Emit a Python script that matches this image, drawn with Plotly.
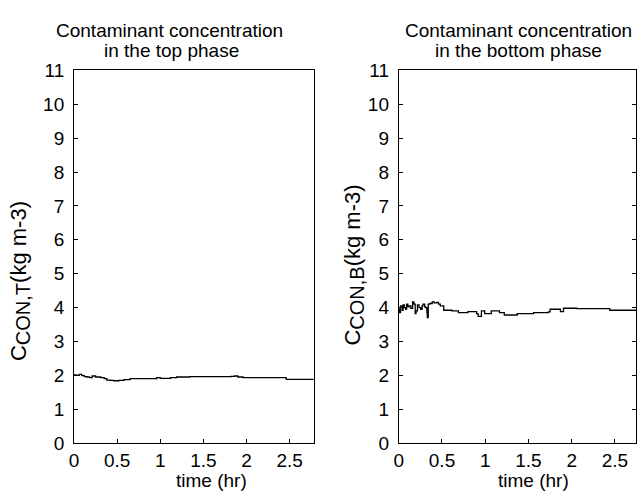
import plotly.graph_objects as go

# Top phase concentration (kg m-3) vs time (hr)
t_top = [0.0, 0.03, 0.06, 0.09, 0.12, 0.15, 0.18, 0.21, 0.25, 0.31, 0.35, 0.38, 0.42, 0.46,
         0.52, 0.58, 0.65, 0.75, 0.85, 0.92, 0.96, 1.0, 1.04, 1.12, 1.19, 1.34, 1.5, 1.65,
         1.77, 1.82, 1.86, 1.9, 1.96, 2.2, 2.44, 2.46, 2.6, 2.78]
c_top = [2.01, 2.0, 2.03, 1.99, 1.96, 1.95, 1.93, 1.98, 1.95, 1.93, 1.9, 1.86, 1.85, 1.84,
         1.85, 1.87, 1.9, 1.9, 1.9, 1.9, 1.93, 1.91, 1.91, 1.93, 1.95, 1.96, 1.96, 1.96,
         1.96, 1.97, 1.98, 1.95, 1.93, 1.93, 1.93, 1.88, 1.88, 1.88]

# Bottom phase concentration (kg m-3) vs time (hr)
t_bot = [0.0, 0.01, 0.02, 0.026, 0.04, 0.05, 0.064, 0.08, 0.09, 0.105, 0.12, 0.14, 0.16, 0.175,
         0.19, 0.2, 0.216, 0.235, 0.254, 0.27, 0.28, 0.3, 0.31, 0.325, 0.33, 0.341, 0.36, 0.387,
         0.41, 0.44, 0.46, 0.48, 0.52, 0.614, 0.69, 0.8, 0.9, 0.918, 0.956, 0.994, 1.07,
         1.165, 1.22, 1.37, 1.56, 1.73, 1.75, 1.87, 1.905, 2.06, 2.44, 2.78]
c_bot = [3.95, 3.85, 4.05, 4.05, 3.92, 4.08, 4.0, 3.95, 4.1, 4.02, 4.05, 3.98, 4.17, 4.1,
         3.82, 3.9, 4.08, 4.0, 3.95, 4.05, 4.1, 4.02, 4.0, 3.85, 3.7, 4.1, 4.12, 4.17,
         4.14, 4.15, 4.1, 4.05, 3.92, 3.9, 3.85, 3.88, 3.82, 3.74, 3.9, 3.82, 3.9,
         3.85, 3.78, 3.82, 3.85, 3.87, 3.95, 3.88, 3.98, 3.97, 3.92, 3.92]

x_ticks = [0, 0.5, 1, 1.5, 2, 2.5]
x_tick_text = ["0", "0.5", "1", "1.5", "2", "2.5"]
y_ticks = list(range(0, 12))

W, H = 637, 502
FONT = "Liberation Sans, Arial, sans-serif"
FS = 19

def px_x(x):
    return x / W

def px_y(y):
    return 1 - y / H

fig = go.Figure()
fig.add_trace(go.Scatter(x=t_top, y=c_top, mode="lines", line=dict(color="black", width=1.3, shape="hv"),
                         xaxis="x", yaxis="y", showlegend=False))
fig.add_trace(go.Scatter(x=t_bot, y=c_bot, mode="lines", line=dict(color="black", width=1.3, shape="hv"),
                         xaxis="x2", yaxis="y2", showlegend=False))

ydom = [px_y(452), px_y(63)]
common_ax = dict(showgrid=False, zeroline=False, showline=True, linecolor="black", linewidth=1,
                 ticks="inside", ticklen=4, tickcolor="black", tickwidth=1,
                 tickfont=dict(family=FONT, size=FS, color="black"))

fig.update_layout(
    width=W, height=H, margin=dict(l=0, r=0, t=0, b=0),
    paper_bgcolor="white", plot_bgcolor="white",
    xaxis=dict(domain=[px_x(69.7), px_x(311.7)], range=[0, 2.78], tickvals=x_ticks, ticktext=x_tick_text,
               mirror=True, anchor="y", ticklabelstandoff=0, **common_ax),
    yaxis=dict(domain=ydom, range=[0, 11], tickvals=y_ticks, mirror=True, anchor="x",
               ticklabelstandoff=5, **common_ax),
    xaxis2=dict(domain=[px_x(397.5), 1.0], range=[0, (637 - 397.5) / 87.3], tickvals=x_ticks,
                ticktext=x_tick_text, mirror=True, anchor="y2", ticklabelstandoff=0, **common_ax),
    yaxis2=dict(domain=ydom, range=[0, 11], tickvals=y_ticks, mirror="ticks", anchor="x2",
                ticklabelstandoff=5, **common_ax),
)

def ann(text, x, y, angle=0, size=FS):
    fig.add_annotation(text=text, x=px_x(x), y=px_y(y), xref="paper", yref="paper",
                       xanchor="center", yanchor="middle", showarrow=False, textangle=angle,
                       font=dict(family=FONT, size=size, color="black"))

ann("Contaminant concentration", 166, 21)
ann("in the top phase", 168, 42)
ann("Contaminant concentration", 518, 21)
ann("in the bottom phase", 518.5, 42)
ann("time (hr)", 208, 491)
ann("time (hr)", 534, 491)
ann("C<sub><span style='font-size:20px'>CON,T</span></sub>(kg m-3)", 15, 283, -90, 22)
ann("C<sub><span style='font-size:20px'>CON,B</span></sub>(kg m-3)", 353, 266, -90, 22)

fig.write_html("out.html")
